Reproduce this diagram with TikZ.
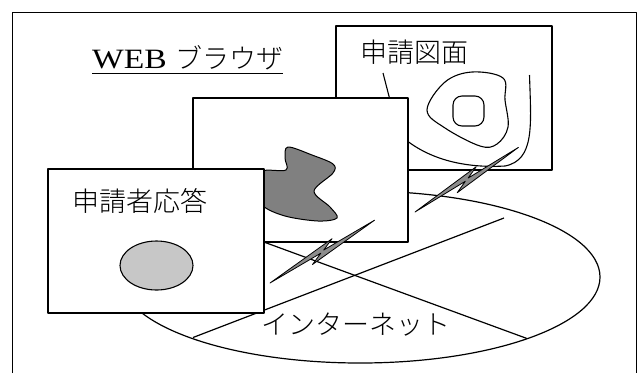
\documentclass[tikz,border=0pt]{standalone}
\usepackage{fontspec}
\setmainfont{Liberation Serif}
\newfontfamily\jpfont{Noto Sans CJK JP Light}
\newfontfamily\webfont[FakeStretch=1.2]{Liberation Serif}

\tikzset{
  panel/.style={draw, line width=1.3pt, fill=white},
  contour/.style={line width=1.1pt},
  jplabel/.style={anchor=base, inner sep=0pt, font=\jpfont\fontsize{27}{27}\selectfont},
  bolt/.pic={
    \filldraw[fill=black!45, line width=0.8pt]
      (0,0) -- (76,-6) -- (63,-0.6) -- (122,0) -- (46,6) -- (59,0.6) -- cycle;
  }
}

\begin{document}
\begin{tikzpicture}[x=1pt,y=-1pt,line join=round]
    \useasboundingbox (0,0) rectangle (639,373);
    % frame, open at the bottom
    \draw[line width=0.8pt] (12,373) -- (12,12) -- (636.5,12) -- (636.5,373);
    % title
    \node[anchor=base west, inner sep=0pt] (title) at (92,68)
        {\fontsize{28}{28}\selectfont\webfont WEB {\jpfont\fontsize{27}{27}\selectfont ブラウザ}};
    \draw[line width=1pt] ([yshift=-5pt]title.base west) -- ([yshift=-5pt]title.base east);

    % network
    \draw[line width=1.2pt] (360,277) ellipse [x radius=240pt, y radius=86pt];
    \draw[line width=1.2pt] (193,337.5) -- (504,218);
    \draw[line width=1.2pt] (230,229.6) -- (527,338.5);
    \node[jplabel] (net) at (356,334) {インターネット};

    % drawing panel (back)
    \draw[panel] (336,26) rectangle (552,170);
    \node[jplabel] (drawing) at (414.5,62.5) {申請図面};
    \draw[contour] (383,73) -- (391,104);
    \draw[contour] (529.5,75) .. controls (531,125) and (535,160) .. (505,166)
        .. controls (470,168) and (430,162) .. (400,135);
    \draw[contour] plot[smooth cycle, tension=0.6] coordinates
        {(427,110) (445,82) (472,72) (503,78) (505,100) (508,127) (497,144) (480,146) (445,128)};
    \draw[contour, rounded corners=9pt] (453,96) rectangle (484,126);

    % middle panel
    \draw[panel] (193,98) rectangle (408,242);
    \filldraw[fill=black!50, line width=1pt] plot[smooth cycle, tension=0.55] coordinates
        {(288,147) (312,155) (333,164) (333,173) (314,191) (330,207) (337,218) (318,221)
         (285,216) (262,205) (255,185) (262,171) (286,170) (285,158)};

    % reply panel (front)
    \draw[panel] (48,169) rectangle (264,313);
    \node[jplabel] (reply) at (139.5,211.5) {申請者応答};
    \filldraw[fill=black!22, line width=1.1pt] (156.5,265.5) ellipse [x radius=36.5pt, y radius=24.5pt];

    % links
    \pic[rotate=32] at (415,212) {bolt};
    \pic[rotate=31] at (270,283) {bolt};
\end{tikzpicture}
\end{document}
